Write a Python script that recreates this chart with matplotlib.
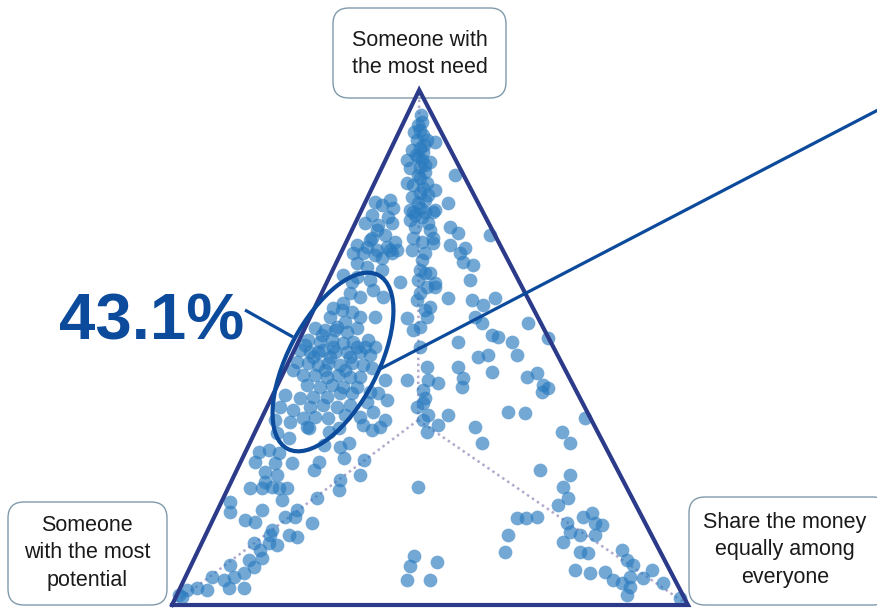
import matplotlib
matplotlib.use("Agg")
import matplotlib.pyplot as plt
from matplotlib.patches import Ellipse, FancyBboxPatch
import numpy as np

plt.rcParams['font.family'] = ['Liberation Sans', 'DejaVu Sans']

# ---------------- data (ternary shares, %) ----------------
vertex_labels = ["Someone with\nthe most need",
                 "Someone\nwith the most\npotential",
                 "Share the money\nequally among\neveryone"]
highlight_label = "43.1%"

# share given to "someone with the most need"
need = [
    95.2, 93.8, 92.2, 91.9, 91.3, 90.3, 90.3, 89.9, 88.7, 88.4, 88.0, 87.0, 86.4, 86.0, 84.9,
    85.1, 84.1, 83.5, 82.0, 82.9, 82.0, 80.6, 79.2, 80.0, 78.1, 78.7, 78.3, 78.7, 77.7, 77.1,
    75.7, 75.3, 76.7, 77.1, 76.7, 74.2, 73.8, 74.2, 74.8, 75.3, 74.2, 73.4, 73.4, 72.2, 71.9,
    71.3, 71.9, 70.5, 69.9, 69.5, 68.9, 68.9, 70.5, 70.3, 69.9, 69.3, 68.9, 68.4, 68.4,
    93.2, 89.3, 87.4, 86.4, 85.4, 83.5, 81.0, 79.6, 78.1, 75.7, 76.3, 81.6, 72.8, 71.3,
    72.8, 70.9, 68.4, 68.4, 69.5, 68.9, 67.4, 65.6, 66.4, 64.1, 63.7, 63.1, 65.1, 62.7, 61.2,
    59.8, 60.6, 59.8, 58.6, 57.7, 76.3, 76.3, 71.3, 67.0, 64.5, 63.1, 61.8, 61.8, 60.6,
    68.0, 68.4, 62.7, 57.3, 56.9, 55.9, 55.9, 55.7, 53.4, 55.9, 53.8, 53.4, 54.0, 53.0, 53.8,
    51.5, 50.1, 51.5, 51.1, 51.5, 50.9, 51.1, 49.5, 49.1, 49.5, 49.1, 49.1, 49.1, 48.6, 47.2,
    47.0, 46.6, 47.0, 46.6, 47.0, 46.6, 46.0, 45.6, 44.7, 44.7, 44.3, 44.7, 44.3, 44.3, 42.7,
    42.3, 42.7, 42.3, 42.3, 40.8, 40.2, 40.4, 40.4, 41.2, 41.2, 41.4, 43.7, 39.8, 43.7, 38.5,
    37.9, 38.5, 38.8, 38.5, 38.8, 39.4, 41.2, 37.5, 35.9, 35.5, 36.3, 36.5, 36.3, 36.9, 36.5,
    35.9, 34.6, 35.0, 34.6,
    65.1, 57.3, 54.0, 50.1, 46.2, 41.8, 38.5, 39.2,
    52.4, 55.0, 50.1, 48.2, 50.1, 45.6, 45.6, 50.5, 53.4, 49.1, 48.2, 50.1, 48.2,
    66.6, 66.0, 64.5, 62.5, 59.2, 63.1, 59.6, 59.2, 58.3, 59.6, 57.9, 55.9, 55.9, 54.8, 54.8,
    52.4, 52.0, 51.1, 51.1, 51.8, 48.2, 48.6, 48.6, 46.2, 45.2, 44.1, 44.3, 45.1, 43.7, 43.1,
    42.3, 42.7, 42.1, 41.4, 40.2, 36.9, 36.9, 37.5, 37.3, 36.3,
    33.4, 32.4, 34.4, 33.6, 31.1, 34.4, 34.0, 30.7, 31.5, 28.5, 28.2, 25.2, 29.7, 30.1, 29.5,
    27.8, 27.6, 27.6, 27.8, 26.2, 25.8, 25.2, 23.9, 22.9, 22.7, 22.7, 22.7, 22.7, 20.4, 20.0,
    18.1, 18.4, 24.3, 22.3, 20.8, 17.1, 18.4, 17.1, 16.5, 16.1, 14.6, 13.6, 15.9, 13.6, 13.2,
    12.0, 12.0, 11.7, 10.7, 8.7, 9.1, 7.4, 7.8, 6.2, 5.4, 5.4, 4.9, 3.3, 3.3, 3.3,
    2.9, 2.9, 1.9, 1.6,
    22.9, 9.5, 7.6, 8.4, 4.9, 4.9,
    35.9, 35.0, 33.6, 34.6, 31.5, 33.6, 31.5, 26.2, 25.2, 22.9, 20.8, 19.4, 16.9, 16.9, 17.1,
    15.9, 17.1, 17.9, 14.2, 13.6, 15.9, 15.5, 13.6, 12.2, 13.6, 10.3, 10.3, 10.1, 10.7, 8.7,
    7.8, 6.8, 6.2, 6.4, 4.9, 4.3, 5.4, 3.5, 5.2, 6.8, 4.3, 1.9, 1.4,
]

# share given to "share the money equally among everyone"
equal = [
    2.7, 3.5, 3.9, 2.9, 4.9, 4.2, 6.2, 7.9, 5.5, 4.2, 6.5, 6.0, 4.1, 8.8, 5.5,
    7.3, 8.8, 14.8, 6.3, 8.3, 10.2, 12.4, 8.6, 9.7, 16.1, 11.4, 1.9, 4.6, 3.5, 5.9,
    2.5, 5.8, 9.4, 11.1, 14.2, 1.9, 4.6, 7.1, 10.3, 12.4, 14.1, 11.9, 18.7, 20.8, 27.2,
    4.6, 6.9, 9.5, 2.4, 4.5, 6.7, 9.2, 14.7, 16.9, 20.4, 23.6, 13.5, 16.3, 23.1,
    3.0, 6.0, 5.4, 7.1, 8.1, 7.7, 9.8, 11.5, 10.3, 10.8, 12.5, 7.6, 15.1, 12.6,
    4.8, 4.4, 2.3, 4.3, 8.4, 10.6, 8.4, 6.4, 4.0, 2.4, 5.3, 8.1, 9.5, 14.1, 9.7,
    7.8, 5.5, 12.2, 5.0, 3.6, 10.2, 14.0, 16.4, 16.4, 19.1, 17.4, 19.8, 21.4, 19.0,
    6.8, 9.9, 4.8, 5.5, 7.6, 9.7, 12.6, 18.8, 21.1, 3.8, 1.9, 4.1, 6.1, 8.5, 10.1,
    13.3, 15.3, 1.7, 4.2, 6.4, 8.8, 10.6, 1.1, 3.2, 5.5, 8.1, 10.4, 13.0, 15.1, 1.6,
    3.8, 6.0, 7.7, 10.2, 12.4, 14.7, 16.7, 1.6, 4.0, 6.3, 8.8, 10.8, 13.3, 15.2, 5.7,
    8.4, 10.5, 12.9, 15.6, 2.4, 5.5, 8.0, 10.7, 12.8, 15.2, 18.6, 20.3, 22.6, 24.6, 2.5,
    5.3, 8.3, 10.7, 13.6, 15.9, 18.9, 20.2, 21.0, 2.8, 5.9, 8.0, 10.2, 12.8, 15.9, 19.0,
    24.1, 9.6, 20.3, 23.8,
    16.9, 21.6, 22.2, 24.1, 27.3, 28.6, 29.1, 29.8,
    4.0, 7.2, 7.2, 4.3, 11.9, 7.8, 11.7, 1.6, 6.0, 4.8, 11.4, 13.4, 7.6,
    24.5, 26.7, 18.1, 21.0, 19.1, 27.5, 24.9, 29.8, 32.4, 34.0, 22.3, 22.6, 31.9, 33.8, 42.8,
    36.9, 38.3, 31.0, 41.4, 48.0, 36.2, 38.0, 43.6, 33.3, 40.3, 35.3, 47.6, 49.1, 28.7, 30.9,
    35.9, 51.4, 52.7, 51.9, 29.8, 31.9, 35.8, 47.2, 50.5, 62.6,
    4.3, 7.1, 10.1, 14.3, 14.6, 15.9, 22.5, 17.9, 19.2, 19.7, 23.7, 24.3, 2.6, 4.4, 6.6,
    2.8, 6.7, 10.0, 15.2, 15.0, 5.7, 8.3, 6.6, 8.4, 9.8, 11.4, 4.2, 6.6, 11.5, 1.7,
    2.6, 8.6, 20.9, 21.7, 18.1, 13.7, 15.4, 15.7, 6.2, 8.4, 12.4, 12.5, 19.5, 16.2, 17.9,
    10.1, 13.0, 14.8, 11.9, 10.7, 13.1, 12.4, 7.5, 11.0, 9.4, 5.2, 7.8, 9.5, 12.4, 3.3,
    5.4, 1.5, 0.4, 1.2,
    36.7, 42.3, 42.5, 47.4, 43.2, 47.7,
    31.4, 34.8, 33.3, 42.2, 45.0, 59.5, 62.1, 58.8, 65.0, 64.8, 66.8, 65.5, 58.8, 60.6, 62.6,
    68.9, 71.5, 72.8, 70.3, 72.6, 74.3, 75.9, 58.6, 69.9, 75.5, 59.6, 74.1, 75.8, 82.1, 84.0,
    85.6, 74.8, 78.0, 80.9, 83.1, 85.2, 86.2, 87.1, 88.8, 89.8, 93.1, 87.2, 97.8,
]

if len(need) != len(equal):
    raise ValueError(f"length mismatch: need={len(need)} equal={len(equal)}")

need_a = np.array(need) / 100.0
equal_a = np.array(equal) / 100.0
potential_a = 1.0 - need_a - equal_a

# ---------------- layout / style constants ----------------
APEX_X = 0.479            # horizontal position of the "need" vertex
CENTER = (0.336, 0.359, 0.305)   # (potential, need, equal) where guide lines meet
W, H = 878, 609
POINT_COLOR = '#2a7bbf'
EDGE_COLOR = '#2c3a8a'
ACCENT = '#0c4a9c'


def tern(pot, nd, eq):
    return eq + nd * APEX_X, nd


fig = plt.figure(figsize=(W / 100, H / 100), dpi=100)

# background overlay (label boxes)
bg = fig.add_axes([0, 0, 1, 1], zorder=0)
bg.set_xlim(0, W)
bg.set_ylim(H, 0)
bg.axis('off')

# main ternary axes: x in [0,1] -> 172..688 px, y in [0,1] -> 605..90 px
ax = fig.add_axes([172 / W, (H - 605) / H, 516 / W, 515 / H], zorder=1)
ax.set_xlim(0, 1)
ax.set_ylim(0, 1)
ax.axis('off')
ax.patch.set_alpha(0)

# top overlay (annotation)
top = fig.add_axes([0, 0, 1, 1], zorder=2)
top.set_xlim(0, W)
top.set_ylim(H, 0)
top.axis('off')
top.patch.set_alpha(0)

# vertices
v_pot = tern(1, 0, 0)
v_eq = tern(0, 0, 1)
v_need = tern(0, 1, 0)
cx, cy = tern(*CENTER)

# dotted guide lines from center
for vx, vy in (v_pot, v_eq, v_need):
    ax.plot([cx, vx], [cy, vy], color='#b3a9cc', lw=1.8,
            linestyle=(0, (1, 1.4)), zorder=1, clip_on=False)

# scatter
xs, ys = tern(potential_a, need_a, equal_a)
ax.scatter(xs, ys, s=98, color=POINT_COLOR, alpha=0.66, linewidths=0,
           zorder=2, clip_on=False)

# triangle outline
tx = [v_pot[0], v_eq[0], v_need[0], v_pot[0]]
ty = [v_pot[1], v_eq[1], v_need[1], v_pot[1]]
ax.plot(tx, ty, color=EDGE_COLOR, lw=3.0, solid_joinstyle='miter',
        zorder=3, clip_on=False)

# label boxes
boxes = [
    ((333, 8, 173, 90), (420, 54)),
    ((8, 502, 159, 103), (87, 553)),
    ((689, 497, 200, 108), (785, 550)),
]
for ((bx, by, bw, bh), (tx_, ty_)), lab in zip(boxes, vertex_labels):
    bg.add_patch(FancyBboxPatch((bx, by), bw, bh,
                                boxstyle="round,pad=0,rounding_size=16",
                                facecolor='white', edgecolor='#7f9aaa', lw=1.0))
    bg.text(tx_, ty_, lab, ha='center', va='center', fontsize=15.5,
            color='#1a1a1a', linespacing=1.38)

# highlight ellipse + connector lines + percentage
top.add_patch(Ellipse((333, 362), width=90, height=196, angle=27.6,
                      facecolor='none', edgecolor=ACCENT, lw=3.0))
top.plot([245, 293], [310, 337], color=ACCENT, lw=2.3, solid_capstyle='butt')
top.plot([380, 878], [369, 110], color=ACCENT, lw=2.3, solid_capstyle='butt')
top.text(152, 339, highlight_label, ha='center', va='baseline',
         fontsize=47, fontweight='bold', color=ACCENT)

fig.savefig('out.png', dpi=100)
